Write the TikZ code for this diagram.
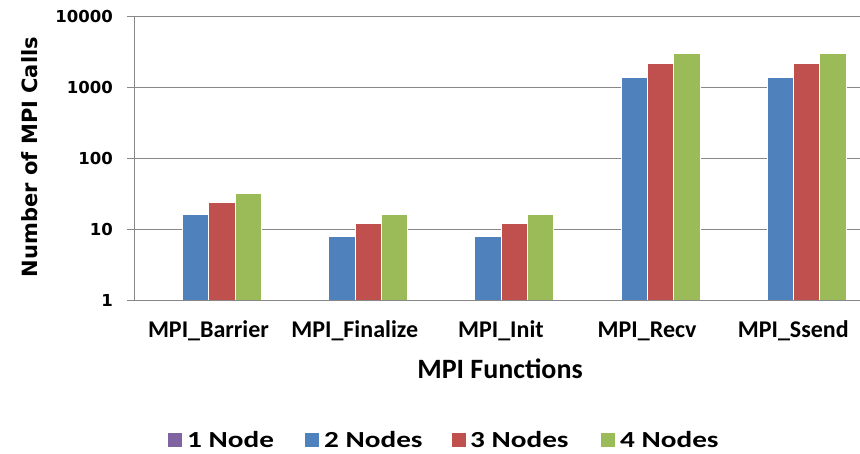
\documentclass[tikz,border=0pt]{standalone}
\usepackage{fontspec}
\newfontfamily\axisfont{DejaVu Sans}
\newfontfamily\labelfont{Carlito}
\newfontfamily\legendfont{Carlito}[FakeStretch=1.27]
\definecolor{nodeone}{HTML}{8064A2}
\definecolor{nodetwo}{HTML}{4F81BD}
\definecolor{nodethree}{HTML}{C0504D}
\definecolor{nodefour}{HTML}{9BBB59}
\definecolor{gridgray}{HTML}{878787}
\tikzset{
  gridline/.style={draw=gridgray, line width=1pt},
  bar/.style={draw=white, line width=0.3pt},
  ticklabel/.style={anchor=east, inner sep=0pt, font=\axisfont\bfseries\fontsize{16.5}{18}\selectfont},
  ytitle/.style={inner sep=0pt, rotate=90, font=\axisfont\bfseries\fontsize{21}{24}\selectfont},
  catlabel/.style={inner sep=0pt, font=\labelfont\bfseries\fontsize{24}{27}\selectfont},
  xtitle/.style={inner sep=0pt, font=\labelfont\bfseries\fontsize{28}{31}\selectfont},
  legmark/.style={minimum size=14pt, inner sep=0pt},
  legtext/.style={anchor=west, inner sep=0pt, font=\legendfont\bfseries\fontsize{23}{26}\selectfont},
}
\begin{document}
\begin{tikzpicture}[x=1pt,y=-1pt]
\useasboundingbox[fill=white] (0,0) rectangle (860,453);

% horizontal gridlines (one per decade) and the value axis
\foreach \k/\lab in {0/1,1/10,2/100,3/1000,4/10000}{
  \draw[gridline] (127,{300-71*\k}) -- (860,{300-71*\k});
  \node[ticklabel] (tick\k) at (113,{300-71*\k}) {\lab};
}
\draw[gridline] (134,16) -- (134,300);

% bars: 2, 3 and 4 nodes per function (1 node has no calls)
\foreach \c/\va/\vb/\vc in {0/16/24/32, 1/8/12/16, 2/8/12/16, 3/1365/2200/2980, 4/1365/2200/2980}{
  \pgfmathsetmacro\L{135.4+146.2*\c+20.5+26.3}
  \filldraw[bar, fill=nodetwo]   (\L,300) rectangle ({\L+26.3},{300-71*log10(\va)});
  \filldraw[bar, fill=nodethree] ({\L+26.3},300) rectangle ({\L+52.6},{300-71*log10(\vb)});
  \filldraw[bar, fill=nodefour]  ({\L+52.6},300) rectangle ({\L+78.9},{300-71*log10(\vc)});
}
\draw[gridline] (134,300) -- (860,300);

% category labels
\foreach \c/\name in {0/MPI\_Barrier,1/MPI\_Finalize,2/MPI\_Init,3/MPI\_Recv,4/MPI\_Ssend}{
  \node[catlabel] (cat\c) at ({208.5+146.2*\c},331) {\name};
}

% axis titles
\node[xtitle] (xtitle) at (500,369) {MPI Functions};
\node[ytitle] (ytitle) at (30,157) {Number of MPI Calls};

% legend
\node[legmark, fill=nodeone]   (m1) at (175,440) {};
\node[legmark, fill=nodetwo]   (m2) at (312,440) {};
\node[legmark, fill=nodethree] (m3) at (459,440) {};
\node[legmark, fill=nodefour]  (m4) at (608,440) {};
\node[legtext] (l1) at (187,440) {1 Node};
\node[legtext] (l2) at (324,440) {2 Nodes};
\node[legtext] (l3) at (470,440) {3 Nodes};
\node[legtext] (l4) at (620,440) {4 Nodes};
\end{tikzpicture}
\end{document}
